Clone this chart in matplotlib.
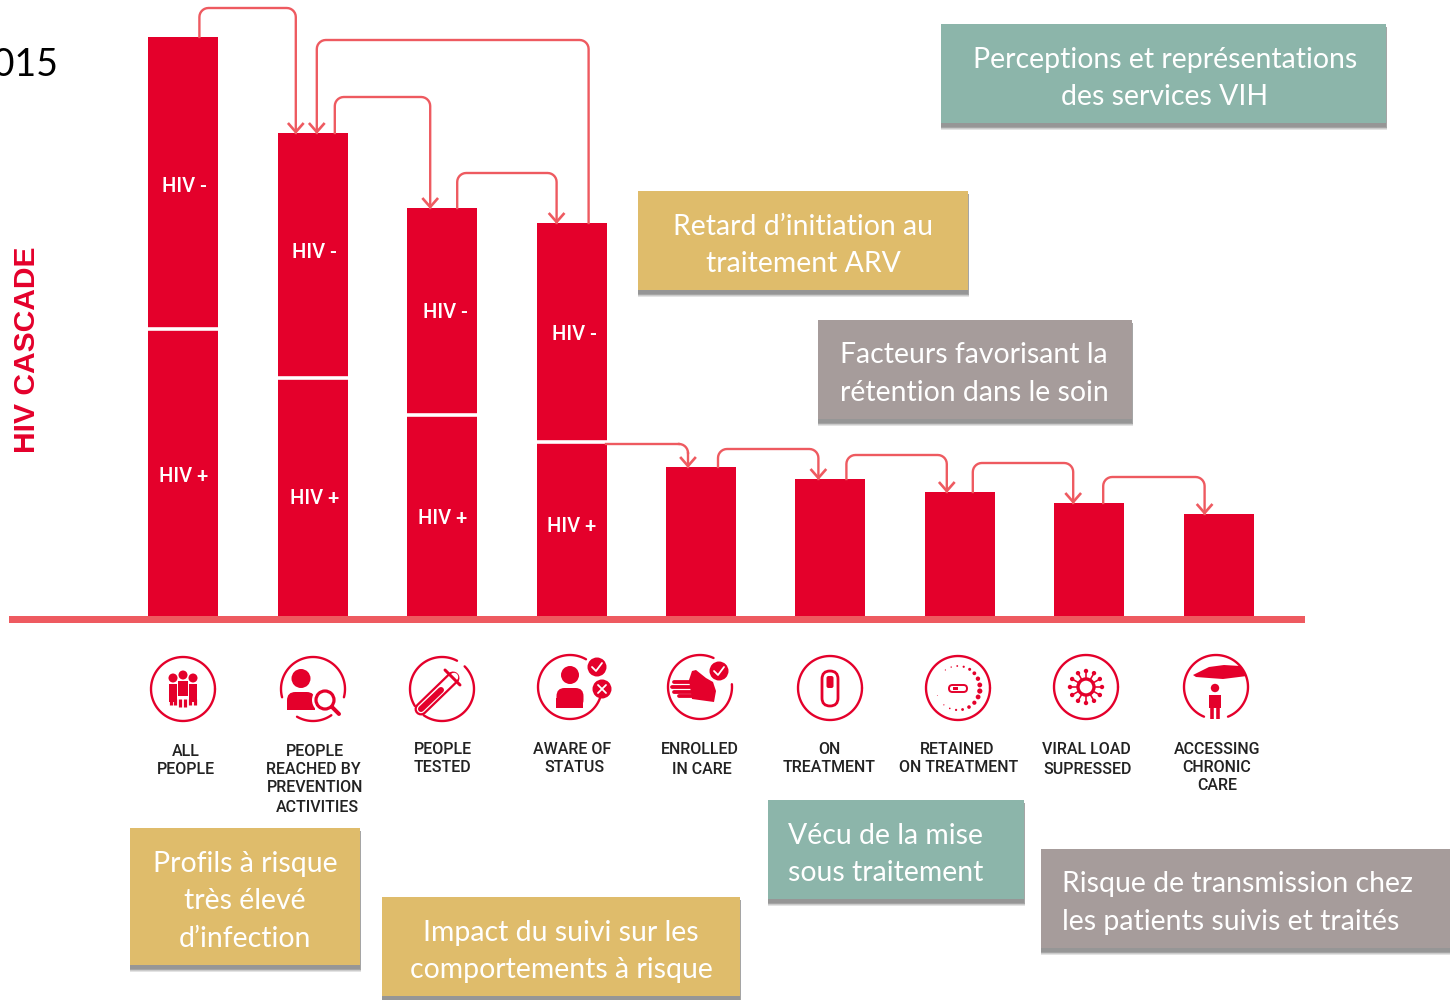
import numpy as np
import matplotlib
matplotlib.use("Agg")
import matplotlib.pyplot as plt
from matplotlib.patches import Rectangle, Circle, FancyBboxPatch, Polygon

# bar heights
hiv_pos = [289, 240, 203, 176, 150, 138, 125, 114, 103]
hiv_neg = [291, 244, 206, 218]
stages = [["ALL", "PEOPLE"], ["PEOPLE", "REACHED BY", "PREVENTION", "ACTIVITIES"],
          ["PEOPLE", "TESTED"], ["AWARE OF", "STATUS"], ["ENROLLED", "IN CARE"],
          ["ON", "TREATMENT"], ["RETAINED", "ON TREATMENT"], ["VIRAL LOAD", "SUPRESSED"],
          ["ACCESSING", "CHRONIC", "CARE"]]

# box texts
box_texts = [["Perceptions et représentations", "des services VIH"],
             ["Retard d’initiation au", "traitement ARV"],
             ["Facteurs favorisant la", "rétention dans le soin"],
             ["Profils à risque", "très élevé", "d’infection"],
             ["Impact du suivi sur les", "comportements à risque"],
             ["Vécu de la mise", "sous traitement"],
             ["Risque de transmission chez", "les patients suivis et traités"]]

RED = "#e4002b"
LINK = "#ee5a60"
TEAL = "#8cb5aa"
GOLD = "#dfbc6b"
GRAY = "#a69c9b"
FONT = "Lato"
LABEL_FONT = "Roboto"

fig = plt.figure(figsize=(14.5, 10), dpi=100)
ax = fig.add_axes([0, 0, 1, 1])
ax.set_xlim((0 - 183.4) / 129.4, (1450 - 183.4) / 129.4)
ax.set_ylim(617 - 1000, 617)
ax.axis("off")

# pixel overlay for the decorations
ov = fig.add_axes([0, 0, 1, 1])
ov.set_xlim(0, 1450)
ov.set_ylim(1000, 0)
ov.axis("off")
ov.patch.set_alpha(0)

n = len(hiv_pos)
idx = np.arange(n)
width = 70 / 129.4
negs = hiv_neg + [0] * (n - len(hiv_neg))
ax.bar(idx, hiv_pos, width=width, color=RED, linewidth=0)
ax.bar(idx, negs, bottom=hiv_pos, width=width, color=RED, linewidth=0)
for i in range(len(hiv_neg)):
    ax.plot([i - width / 2, i + width / 2], [hiv_pos[i] - 0.5, hiv_pos[i] - 0.5], color="white", lw=2.6,
            solid_capstyle="butt")
ov.add_patch(Rectangle((9, 616), 1296, 7, color=LINK, lw=0))

tops = [a + b for a, b in zip(hiv_pos, negs)]


def px(i, off, v):
    x, y = ax.transData.transform((i, v))
    return x + off, 1000 - y


def link(x0, y0, y_up, x1, y1, r=9):
    # up from the bar, across, then down into an arrow head
    s = 1 if x1 > x0 else -1
    xs = [x0, x0]
    ys = [y0, y_up + r]
    a = np.linspace(0, np.pi / 2, 8)
    xs += list(x0 + s * r * (1 - np.cos(a)))
    ys += list(y_up + r * (1 - np.sin(a)))
    xs += list(x1 - s * r * (1 - np.sin(a)))
    ys += list(y_up + r * (1 - np.cos(a)))
    xs += [x1]
    ys += [y1]
    ov.plot(xs, ys, color=LINK, lw=1.7, solid_joinstyle="round")
    ov.plot([x1 - 7, x1, x1 + 7], [y1 - 9, y1 - 1, y1 - 9], color=LINK, lw=1.9, solid_joinstyle="miter")


# src bar, x offset on it, dst bar, x offset on it, level
links = [(0, 16, 1, -17, 8), (3, 17, 1, 4, 40), (1, 22, 2, -12, 97), (2, 15, 3, -15, 173),
         (4, 17, 5, -12, 449), (5, 16, 6, -13, 455), (6, 13, 7, -16, 463), (7, 14, 8, -14, 477)]
for a, oa, b, ob, lev in links:
    x0, y0 = px(a, oa, tops[a])
    x1, y1 = px(b, ob, tops[b])
    link(x0, y0, lev, x1, y1)
# aware of status -> enrolled goes out of the side of the bar
x1, y1 = px(4, -13, tops[4])
ov.plot([606, x1 - 9], [444, 444], color=LINK, lw=1.7)
a = np.linspace(0, np.pi / 2, 8)
ov.plot(x1 - 9 + 9 * np.sin(a), 453 - 9 * np.cos(a), color=LINK, lw=1.7)
ov.plot([x1, x1], [453, y1], color=LINK, lw=1.7)
ov.plot([x1 - 7, x1, x1 + 7], [y1 - 9, y1 - 1, y1 - 9], color=LINK, lw=1.9)

neg_y = [186, 252, 312, 334]
neg_x = [184, 314, 445, 574]
pos_y = [476, 499, 518, 526]
pos_x = [184, 315, 443, 572]
for i in range(4):
    ov.text(neg_x[i], neg_y[i], "HIV -", color="white", ha="center", va="center", fontsize=14.5,
            family=LABEL_FONT, weight="medium")
    ov.text(pos_x[i], pos_y[i], "HIV +", color="white", ha="center", va="center", fontsize=14.5,
            family=LABEL_FONT, weight="medium")

ov.text(27, 350, "HIV CASCADE", color=RED, rotation=90, ha="center", va="center", fontsize=21.6,
        family="Liberation Sans", weight="bold")
ov.text(58, 65, "2015", color="black", ha="right", va="center", fontsize=27, family=FONT)

# stage labels under the axis
label_x = [[186, 186], [315, 313, 315, 317], [443, 443], [572, 574], [700, 702], [829, 829],
           [957, 959], [1086, 1088], [1217, 1217, 1217]]
label_y = [[751, 769], [751, 769, 788, 807], [749, 768], [749, 768], [750, 769], [749, 767],
           [750, 768], [750, 769], [749, 767, 786]]
for lines, xs, ys in zip(stages, label_x, label_y):
    for t, x, y in zip(lines, xs, ys):
        ov.text(x, y, t, color="#222222", ha="center", va="center", fontsize=11.5, family=LABEL_FONT,
                weight="medium")

# x0, y0, x1, y1, colour, text centre or left, line y
boxes = [(941, 24, 1386, 123, TEAL, [1165], [60, 97]),
         (638, 191, 968, 290, GOLD, [803], [227, 264]),
         (818, 320, 1132, 419, GRAY, [974], [355, 393]),
         (130, 828, 360, 965, GOLD, [245], [864, 901, 939]),
         (382, 897, 740, 996, GOLD, [561], [933, 970]),
         (768, 800, 1024, 899, TEAL, [788, "left"], [836, 873]),
         (1041, 849, 1452, 948, GRAY, [1062, "left"], [884, 922])]
for (x0, y0, x1, y1, c, tx, ys), lines in zip(boxes, box_texts):
    for k in range(5, 0, -1):
        ov.add_patch(Rectangle((x0, y0 + 3), x1 - x0 + k * 0.3, y1 - y0 + k * 0.8, color="#444444", alpha=0.15, lw=0,
                               zorder=3))
    ov.add_patch(Rectangle((x0, y0), x1 - x0, y1 - y0, color=c, lw=0, zorder=4))
    ha = tx[1] if len(tx) > 1 else "center"
    for t, y in zip(lines, ys):
        ov.text(tx[0], y, t, color="white", ha=ha, va="center", fontsize=20.4, family=FONT, zorder=5)


# icons
def ring(cx, cy, arcs=((0, 360),), r=32):
    for a0, a1 in arcs:
        t = np.radians(np.linspace(a0, a1, 80))
        ov.plot(cx + r * np.cos(t), cy - r * np.sin(t), color=RED, lw=1.7, solid_capstyle="round")


def dot(x, y, r, c=RED, z=6):
    ov.add_patch(Circle((x, y), r, color=c, lw=0, zorder=z))


def stroke(xs, ys, w, c=RED, z=6, cap="round"):
    ov.plot(xs, ys, color=c, lw=w * 0.72, solid_capstyle=cap, zorder=z)


def person(x, y, hr, bw, bh):
    dot(x, y - hr, hr)
    ov.add_patch(FancyBboxPatch((x - bw / 2, y + 4), bw, bh, boxstyle="round,pad=0,rounding_size=%g" % (bw * 0.3),
                                color=RED, lw=0, zorder=6))
    ov.add_patch(Rectangle((x - bw / 2, y + 4 + bh * 0.5), bw, bh * 0.5, color=RED, lw=0, zorder=6))


def badge(x, y, kind):
    dot(x, y, 9.5)
    if kind == "check":
        stroke([x - 5, x - 1, x + 5], [y, y + 4, y - 4], 1.8, "white", 7)
    else:
        stroke([x - 4, x + 4], [y - 4, y + 4], 1.8, "white", 7)
        stroke([x - 4, x + 4], [y + 4, y - 4], 1.8, "white", 7)


# all people
cx, cy = 183, 689
ring(cx, cy)
for dx, hy, w, y0, y1 in [(-10, -11, 8, -5, 13), (10, -11, 8, -5, 13), (0, -14, 10, -8, 7)]:
    dot(cx + dx, cy + hy, 4.5)
    stroke([cx + dx, cx + dx], [cy + y0, cy + y1], w, cap="butt")
for lx in [-12, -7.5, -2.5, 2.5, 7.5, 12]:
    stroke([cx + lx, cx + lx], [cy + 10, cy + (18 if abs(lx) < 3 else 16)], 3.2, cap="butt")

# people reached
cx, cy = 313, 689
ring(cx, cy, [(-15, 195), (240, 305)])
person(cx - 12, cy - 1, 9.5, 28, 18)
dot(cx + 12, cy + 11, 13, "white", 7)
ov.add_patch(Circle((cx + 12, cy + 11), 9, fc="white", ec=RED, lw=2.3, zorder=8))
stroke([cx + 19, cx + 26], [cy + 18, cy + 25], 4, z=8)

# tested
cx, cy = 442, 689
ring(cx, cy, [(-125, 45), (62, 212)])
stroke([cx - 21, cx + 11], [cy + 20, cy - 11], 13, z=6)
stroke([cx - 21, cx + 12], [cy + 20, cy - 12], 8.5, "white", 7)
stroke([cx - 21, cx - 1], [cy + 20, cy + 1], 6, z=8)
stroke([cx + 3, cx + 18], [cy - 19, cy - 4], 3, z=8)

# aware of status
cx, cy = 570, 687
ring(cx, cy, [(60, 340)])
person(cx, cy - 3, 9, 27, 20)
badge(cx + 27, cy - 20, "check")
badge(cx + 32, cy + 2, "x")

# enrolled
cx, cy = 700, 687
ring(cx, cy, [(65, 365)])
for fy, fx in [(-5, -26), (0, -28), (5, -26), (9, -21)]:
    stroke([cx + fx, cx], [cy + fy, cy + fy], 3.8)
ov.add_patch(Polygon([(cx - 11, cy - 7), (cx - 8, cy - 16), (cx - 4, cy - 17), (cx + 6, cy - 9), (cx + 13, cy - 5),
                      (cx + 16, cy + 4), (cx + 14, cy + 15), (cx - 8, cy + 12)], color=RED, lw=0, zorder=6))
badge(cx + 19, cy - 16, "check")

# on treatment
cx, cy = 830, 688
ring(cx, cy)
ov.add_patch(FancyBboxPatch((cx - 8, cy - 17), 16, 35, boxstyle="round,pad=0,rounding_size=8", fc="white", ec=RED,
                            lw=2.0, zorder=6))
ov.add_patch(FancyBboxPatch((cx - 3.5, cy - 12), 7, 12, boxstyle="round,pad=0,rounding_size=2", color=RED, lw=0,
                            zorder=7))

# retained
cx, cy = 958, 688
ring(cx, cy)
dot_ang = [125, 108, 92, 75, 58, 42, 25, 8, -8, -24, -42, -60, -78, -95, -112, -130, -160]
dot_r = [.6, .7, .9, 1.1, 1.5, 1.9, 2.2, 2.4, 2.6, 2.4, 2.1, 1.8, 1.4, 1.1, .8, .6, .4]
for a_, r_ in zip(dot_ang, dot_r):
    dot(cx + 22 * np.cos(np.radians(a_)), cy - 22 * np.sin(np.radians(a_)), r_)
ov.add_patch(FancyBboxPatch((cx - 9, cy - 3), 18, 7, boxstyle="round,pad=0,rounding_size=3.5", fc="white", ec=RED,
                            lw=1.4, zorder=6))
ov.add_patch(Rectangle((cx - 5, cy - 1), 5, 3, color=RED, lw=0, zorder=7))

# viral load
cx, cy = 1086, 687
ring(cx, cy)
ov.add_patch(Circle((cx, cy), 8, fc="white", ec=RED, lw=2.4, zorder=6))
for a_ in np.arange(0, 360, 30):
    c_, s_ = np.cos(np.radians(a_)), np.sin(np.radians(a_))
    stroke([cx + 8 * c_, cx + 15 * c_], [cy + 8 * s_, cy + 15 * s_], 1.6)
    dot(cx + 16 * c_, cy + 16 * s_, 2.2)

# chronic care
cx, cy = 1216, 687
ring(cx, cy, [(-68, 248)])
ov.add_patch(Polygon([(cx - 23, cy - 12), (cx - 7, cy - 20), (cx + 8, cy - 22), (cx + 24, cy - 21), (cx + 31, cy - 11),
                      (cx + 23, cy - 10), (cx + 7, cy - 8), (cx - 7, cy - 9), (cx - 20, cy - 10)], color=RED, lw=0,
                     zorder=6))
dot(cx - 1, cy + 1, 4.2)
stroke([cx - 1, cx - 1], [cy + 8, cy + 21], 12, cap="butt")
stroke([cx - 4, cx - 4], [cy + 20, cy + 32], 3.6, cap="butt")
stroke([cx + 2, cx + 2], [cy + 20, cy + 32], 3.6, cap="butt")

fig.savefig("out.png", dpi=100)
